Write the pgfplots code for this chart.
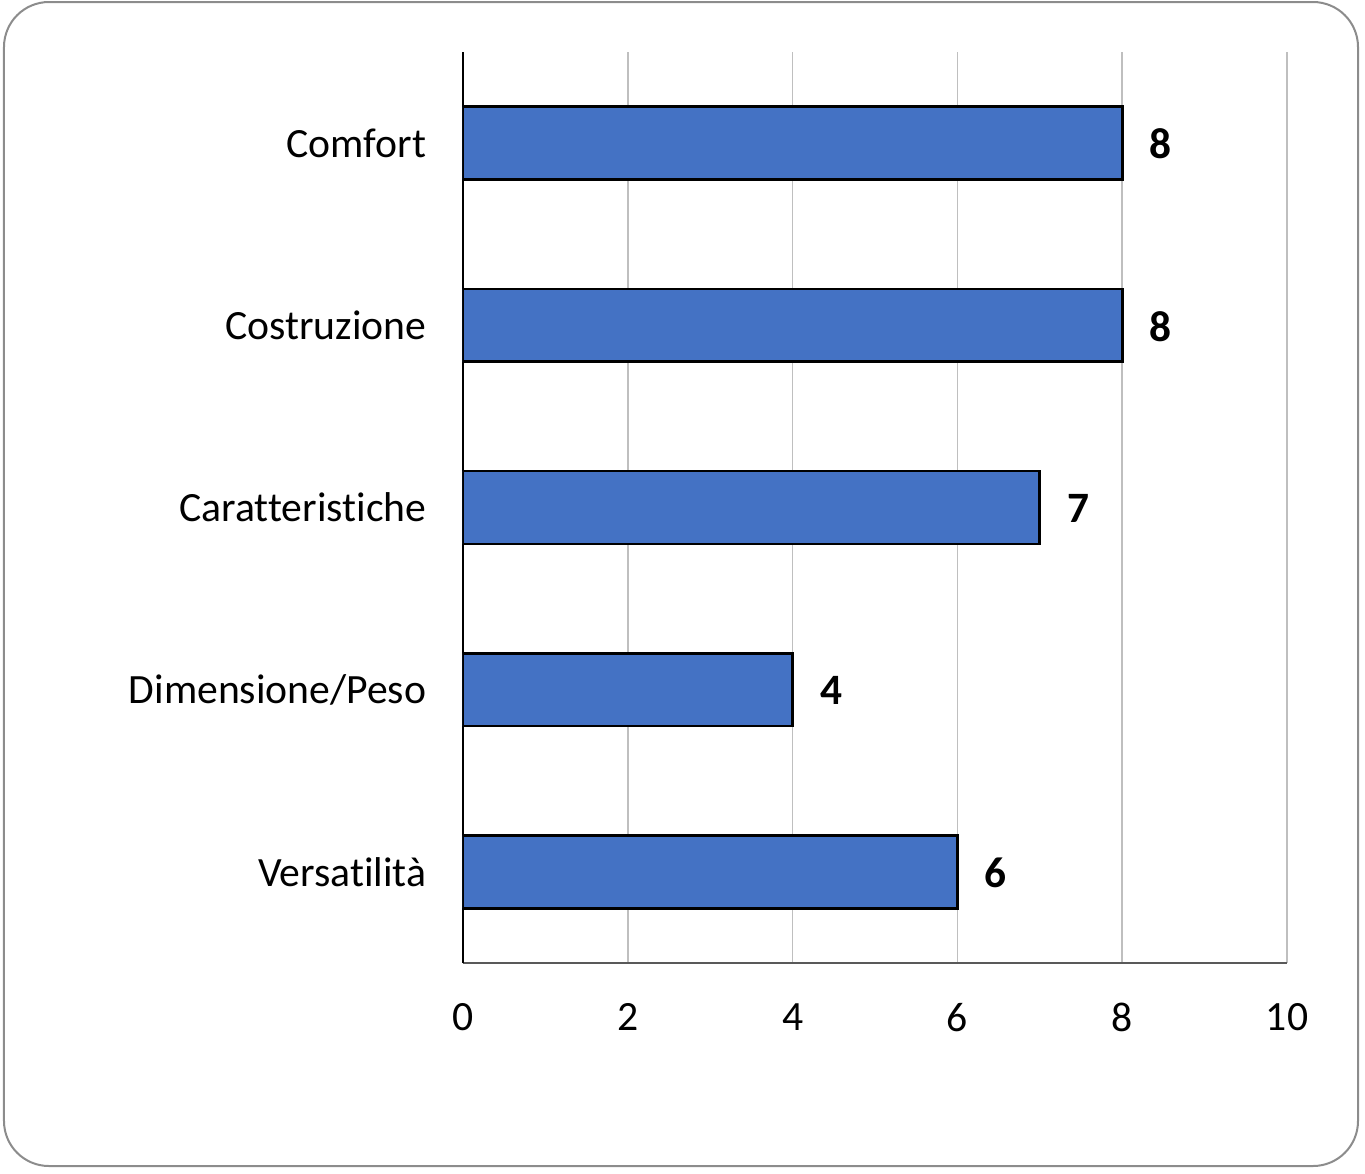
\documentclass[border=0pt]{standalone}
\usepackage{pgfplots}
\pgfplotsset{compat=1.18}
\usepackage{fontspec}
\setmainfont{Carlito}[Ligatures=NoCommon]
\definecolor{barblue}{HTML}{4472C4}
\begin{document}
\begin{tikzpicture}
\useasboundingbox (-138.9pt,-63pt) rectangle (270.6pt,288.9pt);
\draw[black!45, line width=0.6pt, rounded corners=13.5pt] (-137.7pt,-60.9pt) rectangle (268.5pt,288.3pt);
\begin{axis}[
  at={(0pt,0pt)}, anchor=south west,
  scale only axis,
  width=247.2pt, height=273.3pt,
  xbar, bar width=0.4,
  xmin=0, xmax=10,
  ymin=-0.5, ymax=4.5,
  xtick={0,2,4,6,8,10},
  ytick={0,1,2,3,4},
  yticklabels={Versatilità,Dimensione/Peso,Caratteristiche,Costruzione,Comfort},
  axis x line*=bottom, axis y line*=left,
  x axis line style={-, draw=black!65, line width=0.65pt},
  y axis line style={-, draw=black, line width=0.6pt},
  major tick length=0pt,
  xmajorgrids, grid style={black!25, line width=0.45pt},
  tick label style={font=\fontsize{12.5}{15}\selectfont},
  /pgf/number format/assume math mode=true,
  xticklabel style={yshift=-8.6pt},
  yticklabel style={xshift=-7.5pt},
  nodes near coords,
  nodes near coords style={anchor=west, xshift=4.5pt, yshift=-0.3pt, font=\fontsize{13}{15}\selectfont\bfseries},
]
\addplot[fill=barblue, draw=black, line width=0.8pt] coordinates {
  (6,0) (4,1) (7,2) (8,3) (8,4)
};
\end{axis}
\end{tikzpicture}
\end{document}
